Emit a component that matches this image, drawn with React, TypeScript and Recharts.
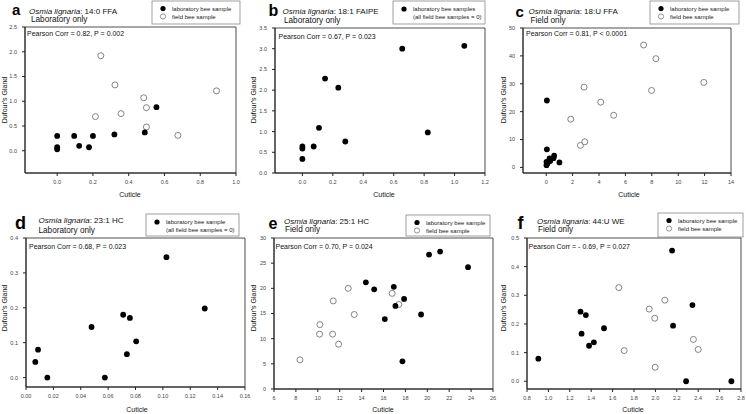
import { ReferenceArea, Scatter, ScatterChart, XAxis, YAxis } from "recharts";

// values, [cuticle, dufour's gland]
const aLab = [[0, 0.3], [0, 0.07], [0, 0.03], [0.095, 0.3], [0.123, 0.1], [0.178, 0.07], [0.2, 0.3], [0.32, 0.33], [0.49, 0.37], [0.555, 0.88]];
const aField = [[0.244, 1.92], [0.323, 1.33], [0.214, 0.69], [0.357, 0.75], [0.484, 1.07], [0.499, 0.87], [0.499, 0.48], [0.675, 0.31], [0.891, 1.21]];
const bLab = [[0, 0.64], [0, 0.59], [0, 0.34], [0.074, 0.64], [0.109, 1.09], [0.149, 2.28], [0.236, 2.06], [0.282, 0.76], [0.656, 3.0], [0.824, 0.98], [1.064, 3.07]];
const cLab = [[0.05, 24.0], [0.05, 6.5], [0.02, 2.0], [0.02, 0.8], [0.25, 3.2], [0.3, 2.3], [0.55, 3.3], [0.6, 4.2], [0.1, 1.5], [1.0, 1.8]];
const cField = [[1.86, 17.3], [2.59, 7.9], [2.92, 9.2], [2.87, 28.8], [4.13, 23.4], [5.11, 18.7], [7.38, 43.9], [8.31, 39.0], [7.98, 27.6], [11.94, 30.5]];
const dLab = [[0.0068, 0.045], [0.0088, 0.08], [0.0156, 0], [0.0479, 0.145], [0.0576, 0], [0.071, 0.18], [0.0759, 0.171], [0.0737, 0.067], [0.0805, 0.104], [0.1026, 0.345], [0.1306, 0.198]];
const eLab = [[14.39, 21.2], [15.15, 19.8], [16.12, 13.9], [16.94, 20.3], [17.09, 16.5], [17.88, 17.9], [17.73, 5.5], [19.43, 14.8], [20.16, 26.7], [21.17, 27.3], [23.72, 24.2]];
const eField = [[8.37, 5.8], [10.16, 10.9], [10.19, 12.8], [11.35, 10.9], [11.41, 17.5], [11.9, 8.9], [12.78, 20.0], [13.33, 14.8], [16.79, 19.0], [17.4, 16.8]];
const fLab = [[0.906, 0.079], [1.3, 0.243], [1.31, 0.166], [1.35, 0.231], [1.38, 0.124], [1.425, 0.136], [1.52, 0.185], [2.156, 0.456], [2.165, 0.194], [2.287, 0], [2.346, 0.266], [2.71, 0]];
const fField = [[1.658, 0.327], [1.708, 0.107], [1.942, 0.252], [1.994, 0.22], [1.998, 0.049], [2.088, 0.283], [2.355, 0.146], [2.4, 0.111]];

// tick labels
const aXTicks = [0, 0.2, 0.4, 0.6, 0.8, 1.0];
const aYTicks = [0, 0.5, 1.0, 1.5, 2.0, 2.5];
const bXTicks = [0, 0.2, 0.4, 0.6, 0.8, 1.0, 1.2];
const bYTicks = [0, 0.5, 1.0, 1.5, 2.0, 2.5, 3.0, 3.5];
const cXTicks = [0, 2, 4, 6, 8, 10, 12, 14];
const cYTicks = [0, 10, 20, 30, 40, 50];
const dXTicks = [0, 0.02, 0.04, 0.06, 0.08, 0.1, 0.12, 0.14, 0.16];
const dYTicks = [0, 0.1, 0.2, 0.3, 0.4];
const eXTicks = [6, 8, 10, 12, 14, 16, 18, 20, 22, 24, 26];
const eYTicks = [0, 5, 10, 15, 20, 25, 30];
const fXTicks = [0.8, 1.0, 1.2, 1.4, 1.6, 1.8, 2.0, 2.2, 2.4, 2.6, 2.8];
const fYTicks = [0, 0.1, 0.2, 0.3, 0.4, 0.5];

const FONT = '"Liberation Sans", Arial, sans-serif';
const toPts = (arr: number[][]) => arr.map(([x, y]) => ({ x, y }));
const f1 = (v: number) => v.toFixed(1);
const f2 = (v: number) => v.toFixed(2);
const f0 = (v: number) => String(v);

const FilledDot = (p: any) => <circle cx={p.cx} cy={p.cy} r={2.9} fill="#000" />;
const OpenDot = (p: any) => <circle cx={p.cx} cy={p.cy} r={3} fill="#fff" stroke="#666" strokeWidth={0.8} />;

const panels = [
  {
    left: 0, top: 0, width: 248, height: 205, margin: { top: 27, right: 12, bottom: 12, left: 5 },
    xDomain: [-0.18, 1.0], yDomain: [-0.45, 2.5], xTicks: aXTicks, yTicks: aYTicks, xFmt: f1, yFmt: f1,
    lab: aLab, field: aField,
  },
  {
    left: 248, top: 0, width: 248, height: 205, margin: { top: 28, right: 11, bottom: 12, left: 7 },
    xDomain: [-0.18, 1.2], yDomain: [0, 3.5], xTicks: bXTicks, yTicks: bYTicks, xFmt: f1, yFmt: f1,
    lab: bLab, field: [],
  },
  {
    left: 496, top: 0, width: 250, height: 205, margin: { top: 28, right: 15, bottom: 12, left: 7 },
    xDomain: [-1.76, 14], yDomain: [-2, 50], xTicks: cXTicks, yTicks: cYTicks, xFmt: f0, yFmt: f0,
    lab: cLab, field: cField,
  },
  {
    left: 0, top: 205, width: 252, height: 209, margin: { top: 33, right: 7, bottom: 7, left: 6 },
    xDomain: [0, 0.16], yDomain: [-0.027, 0.4], xTicks: dXTicks, yTicks: dYTicks, xFmt: f2, yFmt: f1,
    lab: dLab, field: [],
  },
  {
    left: 248, top: 205, width: 250, height: 209, margin: { top: 33, right: 5, bottom: 5, left: 6 },
    xDomain: [6, 26], yDomain: [0, 30], xTicks: eXTicks, yTicks: eYTicks, xFmt: f0, yFmt: f0,
    lab: eLab, field: eField,
  },
  {
    left: 496, top: 205, width: 250, height: 209, margin: { top: 33, right: 5, bottom: 5, left: 11 },
    xDomain: [0.8, 2.8], yDomain: [-0.027, 0.5], xTicks: fXTicks, yTicks: fYTicks, xFmt: f1, yFmt: f1,
    lab: fLab, field: fField,
  },
];

// titles, legends and annotations, page coordinates
const labels = [
  { letter: "a", lx: 12, ly: 15, ls: 15, name: ": 14:0 FFA", tx: 29, ty: 10.5, sub: "Laboratory only", sx: 31, sy: 19.5,
    pearson: "Pearson Corr = 0.82, P = 0.002", px: 27, py: 33, box: [152, 1, 88, 23], leg: ["laboratory bee sample", "field bee sample"], open: true,
    gx: 4, gy: 100, cx: 130, cy: 194 },
  { letter: "b", lx: 268.5, ly: 16, ls: 16, name: ": 18:1 FAIPE", tx: 282.5, ty: 11, sub: "Laboratory only", sx: 284, sy: 20,
    pearson: "Pearson Corr = 0.67, P = 0.023", px: 278.5, py: 36.5, box: [393, 1, 92, 23], leg: ["laboratory bee samples", "(all field bee samples = 0)"], open: false,
    gx: 253, gy: 100, cx: 384, cy: 194 },
  { letter: "c", lx: 515.5, ly: 16.5, ls: 15, name: ": 18:U FFA", tx: 528.5, ty: 11, sub: "Field only", sx: 530.5, sy: 20,
    pearson: "Pearson Corr = 0.81, P < 0.0001", px: 526, py: 33.5, box: [650, 1, 89, 23], leg: ["laboratory bee sample", "field bee sample"], open: true,
    gx: 503, gy: 100, cx: 629, cy: 194 },
  { letter: "d", lx: 15, ly: 228.5, ls: 18, name: ": 23:1 HC", tx: 38.5, ty: 219.5, sub: "Laboratory only", sx: 38.5, sy: 230.5,
    pearson: "Pearson Corr = 0.68, P = 0.023", px: 29, py: 246.5, box: [146, 214, 93, 22], leg: ["laboratory bee sample", "(all field bee samples = 0)"], open: false,
    gx: 4, gy: 308, cx: 137, cy: 409.5 },
  { letter: "e", lx: 268.5, ly: 228.5, ls: 16, name: ": 25:1 HC", tx: 284, ty: 220.5, sub: "Field only", sx: 285, sy: 229.5,
    pearson: "Pearson Corr = 0.70, P = 0.024", px: 275.5, py: 246.5, box: [406, 215, 84, 21], leg: ["laboratory bee sample", "field bee sample"], open: true,
    gx: 253, gy: 308, cx: 383, cy: 409.5 },
  { letter: "f", lx: 517.5, ly: 229, ls: 18, name: ": 44:U WE", tx: 537, ty: 220.5, sub: "Field only", sx: 538, sy: 229.5,
    pearson: "Pearson Corr = - 0.69, P = 0.027", px: 528.5, py: 246.5, box: [658, 213, 85, 24], leg: ["laboratory bee sample", "field bee sample"], open: true,
    gx: 503, gy: 308, cx: 633, cy: 409.5 },
];

function Panel({ cfg }: { cfg: (typeof panels)[number] }) {
  const [x0, x1] = cfg.xDomain;
  const [y0, y1] = cfg.yDomain;
  return (
    <div style={{ position: "absolute", left: cfg.left, top: cfg.top }}>
      <ScatterChart width={cfg.width} height={cfg.height} margin={cfg.margin}>
        <XAxis
          type="number"
          dataKey="x"
          domain={cfg.xDomain}
          ticks={cfg.xTicks}
          tickFormatter={cfg.xFmt}
          allowDataOverflow
          interval={0}
          height={20}
          tickSize={3}
          tickMargin={4}
          stroke="#222"
          tick={{ fontSize: 5.5, fill: "#444", fontFamily: FONT }}
        />
        <YAxis
          type="number"
          dataKey="y"
          domain={cfg.yDomain}
          ticks={cfg.yTicks}
          tickFormatter={cfg.yFmt}
          allowDataOverflow
          interval={0}
          width={20}
          tickSize={3}
          tickMargin={5}
          stroke="#222"
          tick={{ fontSize: 5.5, fill: "#444", fontFamily: FONT }}
        />
        <ReferenceArea x1={x0} x2={x1} y1={y0} y2={y1} fill="none" fillOpacity={0} stroke="#222" strokeWidth={0.8} />
        <Scatter data={toPts(cfg.field)} shape={OpenDot} isAnimationActive={false} />
        <Scatter data={toPts(cfg.lab)} shape={FilledDot} isAnimationActive={false} />
      </ScatterChart>
    </div>
  );
}

function Annotations() {
  return (
    <svg width={746} height={414} style={{ position: "absolute", left: 0, top: 0, pointerEvents: "none" }} fontFamily={FONT}>
      {labels.map((l) => {
        const [bx, by, bw, bh] = l.box;
        return (
          <g key={l.letter}>
            <text x={l.lx} y={l.ly} fontSize={l.ls} fontWeight="bold" fill="#000">{l.letter}</text>
            <text x={l.tx} y={l.ty} fontSize={8} dominantBaseline="central" fill="#111">
              <tspan fontStyle="italic">Osmia lignaria</tspan>
              <tspan>{l.name}</tspan>
            </text>
            <text x={l.sx} y={l.sy} fontSize={8.2} dominantBaseline="central" fill="#111">{l.sub}</text>
            <text x={l.px} y={l.py} fontSize={7} dominantBaseline="central" fill="#111">{l.pearson}</text>
            <rect x={bx} y={by} width={bw} height={bh} fill="#fff" stroke="#888" strokeWidth={0.8} />
            <circle cx={bx + 11} cy={by + (l.open ? 7.5 : 8)} r={2.6} fill="#000" />
            {l.open && <circle cx={bx + 11} cy={by + 15.5} r={2.6} fill="#fff" stroke="#666" strokeWidth={0.7} />}
            <text x={bx + 20} y={by + 7.5} fontSize={6} dominantBaseline="central" fill="#222">{l.leg[0]}</text>
            <text x={bx + 20} y={by + 15.5} fontSize={6} dominantBaseline="central" fill="#222">{l.leg[1]}</text>
            <text
              x={l.gx}
              y={l.gy}
              fontSize={7}
              textAnchor="middle"
              dominantBaseline="central"
              transform={`rotate(-90 ${l.gx} ${l.gy})`}
              fill="#111"
            >
              Dufour's Gland
            </text>
            <text x={l.cx} y={l.cy} fontSize={7} textAnchor="middle" dominantBaseline="central" fill="#111">Cuticle</text>
          </g>
        );
      })}
    </svg>
  );
}

export default function App() {
  return (
    <div style={{ position: "absolute", left: 0, top: 0, width: 746, height: 414, background: "#fff", fontFamily: FONT }}>
      {panels.map((p, i) => (
        <Panel key={i} cfg={p} />
      ))}
      <Annotations />
    </div>
  );
}
